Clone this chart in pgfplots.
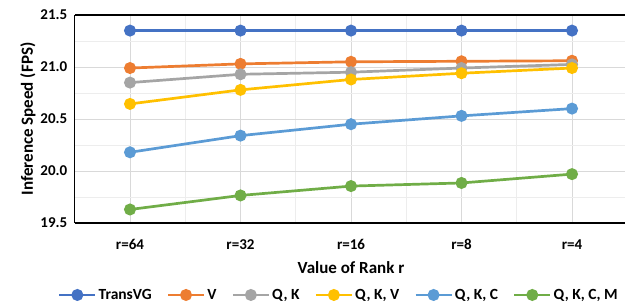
\documentclass[border=0pt]{standalone}
\usepackage{fontspec}
\setmainfont{Carlito}
\usepackage{pgfplots}
\pgfplotsset{compat=1.18}
\definecolor{cBlue}{HTML}{4472C4}
\definecolor{cOrange}{HTML}{ED7D31}
\definecolor{cGray}{HTML}{A5A5A5}
\definecolor{cYellow}{HTML}{FFC000}
\definecolor{cLBlue}{HTML}{5B9BD5}
\definecolor{cGreen}{HTML}{70AD47}
\definecolor{gridmaj}{HTML}{D9D9D9}
\definecolor{gridmin}{HTML}{EDEDED}
\begin{document}
\begin{tikzpicture}
\begin{axis}[
  scale only axis,
  width=552.5bp, height=208bp,
  xmin=-0.5, xmax=4.5,
  ymin=19.5, ymax=21.5,
  xtick={0,1,2,3,4},
  xticklabels={r=64,r=32,r=16,r=8,r=4},
  minor xtick={-0.5,0.5,1.5,2.5,3.5,4.5},
  ytick={19.5,20,20.5,21,21.5},
  minor ytick={19.75,20.25,20.75,21.25},
  yticklabel style={/pgf/number format/fixed,/pgf/number format/fixed zerofill,/pgf/number format/precision=1},
  /pgf/number format/assume math mode=true,
  ticklabel style={font=\fontsize{15bp}{17bp}\selectfont\bfseries},
  xticklabel style={yshift=-13bp},
  yticklabel style={xshift=-4bp},
  grid=both,
  major grid style={gridmaj, line width=0.8bp},
  minor grid style={gridmin, line width=0.8bp},
  axis x line*=bottom,
  axis y line*=left,
  axis line style={black, line width=1.2bp, -},
  x axis line style={-},
  y axis line style={-},
  xtick style={draw=none},
  ytick style={draw=none},
  minor tick style={draw=none},
  xlabel={Value of Rank r},
  ylabel={Inference Speed (FPS)},
  label style={font=\fontsize{17bp}{19bp}\selectfont\bfseries},
  xlabel style={yshift=-5bp},
  ylabel style={yshift=-2bp},
  every axis plot/.append style={line width=2.7bp, mark=*, mark size=4.6bp},
  legend columns=6,
  legend style={draw=none, fill=none, at={(0.478,-0.346)}, anchor=center,
    font=\fontsize{15.5bp}{17bp}\selectfont\bfseries,
    /tikz/every even column/.append style={column sep=13bp},
    inner sep=0pt},
  legend cell align=left,
  legend image code/.code={\draw[mark repeat=2,mark phase=2,#1] plot coordinates {(0bp,0bp) (18bp,0bp) (36bp,0bp)};},
  clip=false,
]
\addplot[cBlue] coordinates {(0,21.35) (1,21.35) (2,21.35) (3,21.35) (4,21.35)};
\addplot[cOrange] coordinates {(0,20.99) (1,21.03) (2,21.05) (3,21.055) (4,21.06)};
\addplot[cGray] coordinates {(0,20.85) (1,20.93) (2,20.95) (3,20.99) (4,21.025)};
\addplot[cYellow] coordinates {(0,20.645) (1,20.78) (2,20.88) (3,20.94) (4,20.99)};
\addplot[cLBlue] coordinates {(0,20.18) (1,20.34) (2,20.45) (3,20.53) (4,20.60)};
\addplot[cGreen] coordinates {(0,19.63) (1,19.765) (2,19.855) (3,19.885) (4,19.97)};
\legend{TransVG,V,{Q, K},{Q, K, V},{Q, K, C},{Q, K, C, M}}
\draw[black, line width=1.2bp] (rel axis cs:0,1) -- (rel axis cs:1,1);
\coordinate (bl) at (rel axis cs:0,0);
\coordinate (tr) at (rel axis cs:1,1);
\end{axis}
\pgfresetboundingbox
\path ([shift={(-74.75bp,-82bp)}]bl) rectangle ([shift={(-2.25bp,15bp)}]tr);
\end{tikzpicture}
\end{document}
